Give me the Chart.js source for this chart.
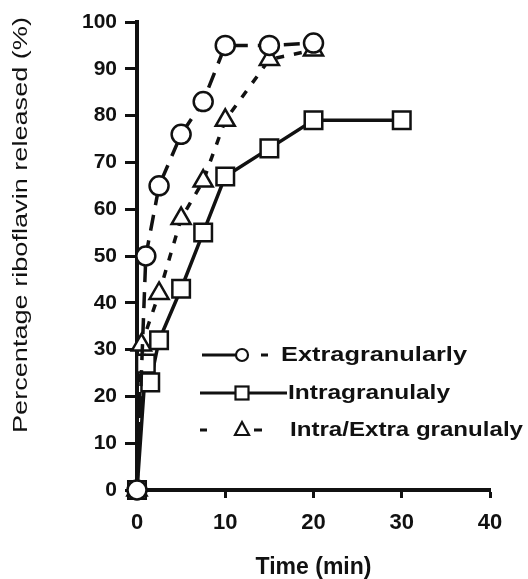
<!DOCTYPE html>
<html>
<head>
<meta charset="utf-8">
<script src="https://cdn.jsdelivr.net/npm/chart.js@4"></script>
<style>
  html, body { margin: 0; padding: 0; background: #fff; }
  #wrap { width: 528px; height: 579px; }
</style>
</head>
<body>
<div id="wrap"><canvas id="chartRelease" width="528" height="579"></canvas></div>
<script>
// release data (time in min, % released)
const timeExtra   = [0, 1, 2.5, 5, 7.5, 10, 15, 20];
const valuesExtra = [0, 50, 65, 76, 83, 95, 95, 95.5];

const timeIntra   = [0, 1, 1.5, 2.5, 5, 7.5, 10, 15, 20, 30];
const valuesIntra = [0, 27, 23, 32, 43, 55, 67, 73, 79, 79];

const timeMixed   = [0, 0.5, 2.5, 5, 7.5, 10, 15, 20];
const valuesMixed = [0, 31, 42, 58, 66, 79, 92, 94];

const seriesNames = ['Extragranularly', 'Intragranulaly', 'Intra/Extra granulaly'];
const xTicks = [0, 10, 20, 30, 40];
const yTicks = [0, 10, 20, 30, 40, 50, 60, 70, 80, 90, 100];

const toPoints = (xs, ys) => xs.map((x, i) => ({ x, y: ys[i] }));

const FONT = '"Liberation Sans", Arial, sans-serif';

const yTitle = {
  id: 'yTitle',
  afterDraw(chart) {
    const ctx = chart.ctx;
    const text = 'Percentage riboflavin released (%)';
    ctx.save();
    ctx.font = '20px ' + FONT;
    const w = ctx.measureText(text).width;
    ctx.translate(21, 225);
    ctx.rotate(-Math.PI / 2);
    ctx.scale(416 / w, 1);
    ctx.fillStyle = '#111';
    ctx.textAlign = 'center';
    ctx.textBaseline = 'middle';
    ctx.fillText(text, 0, 0);
    ctx.restore();
  }
};

// legend sits inside the plot, drawn by hand
const innerLegend = {
  id: 'innerLegend',
  afterDraw(chart) {
    const ctx = chart.ctx;
    const rows = [355, 393, 430];
    ctx.save();
    ctx.strokeStyle = '#111';
    ctx.fillStyle = '#111';
    ctx.lineWidth = 3;
    ctx.lineCap = 'butt';

    // row 1: line, circle, dash
    let y = rows[0];
    ctx.beginPath();
    ctx.moveTo(202, y); ctx.lineTo(236, y);
    ctx.moveTo(261, y); ctx.lineTo(268, y);
    ctx.stroke();
    ctx.lineWidth = 2.2;
    ctx.beginPath(); ctx.arc(242, y, 6, 0, Math.PI * 2);
    ctx.fillStyle = '#fff'; ctx.fill(); ctx.stroke();

    // row 2: solid line through square
    y = rows[1];
    ctx.lineWidth = 3;
    ctx.beginPath(); ctx.moveTo(200, y); ctx.lineTo(287, y); ctx.stroke();
    ctx.lineWidth = 2.2;
    ctx.fillStyle = '#fff';
    ctx.fillRect(235.5, y - 6.5, 13, 13);
    ctx.strokeRect(235.5, y - 6.5, 13, 13);

    // row 3: dash, triangle, dash
    y = rows[2];
    ctx.lineWidth = 3;
    ctx.beginPath();
    ctx.moveTo(200, y); ctx.lineTo(207, y);
    ctx.moveTo(254, y); ctx.lineTo(262, y);
    ctx.stroke();
    ctx.lineWidth = 2.2;
    ctx.beginPath();
    ctx.moveTo(242, y - 8); ctx.lineTo(249, y + 5); ctx.lineTo(235, y + 5); ctx.closePath();
    ctx.fillStyle = '#fff'; ctx.fill(); ctx.stroke();

    ctx.fillStyle = '#111';
    ctx.font = 'bold 21px ' + FONT;
    ctx.textBaseline = 'middle';
    const starts = [281, 288, 290];
    const widths = [186, 162, 233];
    seriesNames.forEach((name, i) => {
      const w = ctx.measureText(name).width;
      ctx.save();
      ctx.translate(starts[i], rows[i]);
      ctx.scale(widths[i] / w, 1);
      ctx.fillText(name, 0, 0);
      ctx.restore();
    });
    ctx.restore();
  }
};

const ctx = document.getElementById('chartRelease').getContext('2d');

new Chart(ctx, {
  type: 'scatter',
  data: {
    datasets: [
      {
        label: seriesNames[0],
        data: toPoints(timeExtra, valuesExtra),
        showLine: true,
        borderColor: '#111',
        borderWidth: 3.5,
        borderDash: [16, 10],
        pointStyle: 'circle',
        pointRadius: 9.5,
        pointBorderWidth: 2.5,
        pointBackgroundColor: '#fff',
        pointBorderColor: '#111',
        clip: false
      },
      {
        label: seriesNames[1],
        data: toPoints(timeIntra, valuesIntra),
        showLine: true,
        borderColor: '#111',
        borderWidth: 3.5,
        pointStyle: 'rect',
        pointRadius: 12.4,
        pointBorderWidth: 2.5,
        pointBackgroundColor: '#fff',
        pointBorderColor: '#111',
        clip: false
      },
      {
        label: seriesNames[2],
        data: toPoints(timeMixed, valuesMixed),
        showLine: true,
        borderColor: '#111',
        borderWidth: 3.5,
        borderDash: [8, 10],
        pointStyle: 'triangle',
        pointRadius: 11,
        pointBorderWidth: 2.5,
        pointBackgroundColor: '#fff',
        pointBorderColor: '#111',
        clip: false
      }
    ]
  },
  options: {
    responsive: false,
    animation: false,
    layout: { padding: { left: 0, right: 38, top: 22, bottom: 0 } },
    scales: {
      x: {
        type: 'linear',
        min: 0,
        max: 40,
        afterFit: s => { s.height = 89; },
        afterBuildTicks: s => { s.ticks = xTicks.map(v => ({ value: v })); },
        border: { display: true, color: '#111', width: 4 },
        grid: { display: true, drawOnChartArea: false, drawTicks: true, tickLength: 8, tickWidth: 3, color: '#111' },
        ticks: { color: '#111', padding: 12, maxRotation: 0, font: { family: FONT, size: 22, weight: 'bold' } },
        title: {
          display: true,
          text: 'Time (min)',
          color: '#111',
          padding: { top: 0, bottom: 0 },
          font: { family: FONT, size: 23, weight: 'bold', lineHeight: 1.0 }
        }
      },
      y: {
        type: 'linear',
        min: 0,
        max: 100,
        afterFit: s => { s.width = 137; },
        afterBuildTicks: s => { s.ticks = yTicks.map(v => ({ value: v })); },
        border: { display: true, color: '#111', width: 4 },
        grid: { display: true, drawOnChartArea: false, drawTicks: true, tickLength: 12, tickWidth: 3, color: '#111' },
        ticks: { color: '#111', padding: 8, font: { family: FONT, size: 21, weight: 'bold' } }
      }
    },
    plugins: {
      legend: { display: false },
      tooltip: { enabled: false }
    }
  },
  plugins: [yTitle, innerLegend]
});
</script>
</body>
</html>
